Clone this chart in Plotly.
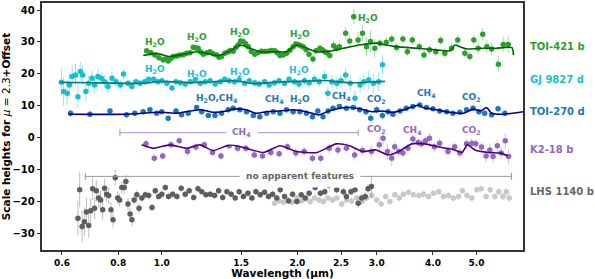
import plotly.graph_objects as go
import math

# ---------------- data: (wavelength um, scale heights, error) ----------------
toi421 = [(0.925,27.2,0.9),(0.945,26.6,0.9),(0.965,25.9,0.9),(0.985,25.0,0.9),(1.007,24.3,0.9),(1.02,24.6,0.9),
          (1.033,24.0,0.9),(1.047,24.8,0.9),(1.06,25.4,0.9),(1.078,25.6,0.9),(1.097,25.9,0.9),(1.115,26.0,0.9),
          (1.135,26.4,0.9),(1.155,26.6,0.9),(1.174,28.3,0.9),(1.19,28.1,0.9),(1.204,28.0,0.9),(1.22,26.8,0.9),
          (1.236,26.1,0.9),(1.258,26.6,0.9),(1.279,26.9,0.9),(1.30,26.3,0.9),(1.323,25.9,0.9),(1.34,25.2,0.9),
          (1.357,25.4,0.9),(1.38,26.4,0.9),(1.404,26.9,0.9),(1.42,27.3,0.9),(1.44,27.1,0.9),(1.46,28.2,0.9),
          (1.477,29.0,0.9),(1.496,30.3,0.9),(1.516,30.1,0.9),(1.535,29.4,0.9),(1.556,28.5,0.9),(1.58,27.0,0.9),
          (1.609,26.1,0.9),(1.635,26.7,0.9),(1.665,27.1,0.9),(1.695,27.0,0.9),(1.723,27.1,0.9),(1.752,27.3,0.9),
          (1.782,27.2,0.9),(1.805,26.6,0.9),(1.829,25.7,0.9),(1.86,25.9,0.9),(1.892,26.4,0.9),(1.925,27.4,0.9),
          (1.957,28.5,0.9),(1.983,29.3,0.9),(2.008,29.2,0.9),(2.035,28.8,0.9),(2.06,28.5,1.0),(2.09,27.6,1.0),
          (2.123,26.1,1.2),(2.166,24.6,1.5),(2.20,27.2,1.0),(2.244,28.0,1.0),(2.27,27.5,1.0),(2.301,26.9,1.0),
          (2.33,26.5,1.0),(2.36,25.7,1.2),(2.407,28.8,1.5),(2.44,27.9,1.2),(2.48,28.5,1.5),
          (2.56,32.7,2.0),(2.614,30.3,2.0),(2.668,37.9,2.5),(2.728,30.6,2.5),(2.79,32.7,2.5),(2.848,28.5,3.0),
          (2.907,30.1,3.5),(2.971,28.0,3.0),(3.05,29.6,1.5),(3.15,29.9,1.5),(3.24,30.9,1.5),(3.32,28.2,1.5),
          (3.43,30.9,1.5),(3.51,26.9,1.5),(3.60,30.6,1.5),(3.73,28.5,1.5),(3.82,25.9,1.5),(3.93,27.5,1.5),
          (4.06,26.9,1.5),(4.16,30.4,1.5),(4.25,26.4,1.5),(4.40,28.0,1.5),(4.54,30.6,1.5),(4.71,26.4,1.5),
          (4.83,25.4,1.5),(4.93,30.6,1.5),(5.04,28.0,2.0),(5.16,32.4,2.0),(5.27,28.5,2.0),(5.40,27.8,2.0),
          (5.59,23.0,2.5),(5.73,29.2,2.5),(5.88,29.2,2.5)]
toi421_model_wl = [0.909,0.974,1.042,1.116,1.195,1.257,1.334,1.416,1.49,1.569,1.65,1.80,1.89,1.99,2.10,2.21,
                   2.36,2.53,2.75,3.0,3.15,3.32,3.68,4.07,4.36,4.48,4.59,4.74,5.17,5.53,5.99,6.04]
toi421_model = [25.7,26.4,25.4,26.1,26.9,26.4,25.7,27.1,29.0,28.0,26.9,26.9,26.9,29.0,28.0,26.9,
                27.1,28.0,29.0,29.6,29.0,28.5,28.0,27.5,27.2,29.0,28.5,27.8,28.0,28.0,28.2,25.9]

gj9827 = [(0.598,17.3,4.5),(0.605,14.4,4.5),(0.616,13.9,4.0),(0.623,16.5,4.0),(0.632,19.1,3.5),(0.643,19.6,3.5),
          (0.651,12.8,3.5),(0.659,20.7,3.0),(0.667,19.6,3.0),(0.678,14.4,3.0),(0.688,17.0,2.5),(0.70,18.6,2.5),
          (0.709,16.5,2.5),(0.721,19.1,2.5),(0.734,18.6,2.0),(0.746,17.5,2.0),(0.759,16.0,2.0),(0.775,18.6,2.0),
          (0.791,17.5,1.5),(0.809,16.5,1.5),(0.822,19.9,1.5),(0.841,17.0,1.2),(0.858,16.0,1.2),(0.876,17.5,1.0),
          (0.895,17.0,1.0),(0.916,17.5,1.0),(0.935,18.3,1.0),(0.959,18.3,1.0),(0.980,17.5,1.0),(1.0,17.8,1.0),
          (1.026,17.0,1.0),(1.053,15.5,1.0),(1.075,17.5,1.0),(1.099,17.2,1.0),(1.127,16.8,1.0),(1.156,17.5,1.0),
          (1.186,18.1,1.0),(1.217,17.0,1.0),(1.248,17.5,1.0),(1.28,17.8,1.0),(1.314,16.8,1.0),(1.348,17.5,1.0),
          (1.378,18.3,1.0),(1.411,17.8,1.0),(1.451,17.5,1.0),(1.485,18.1,1.0),(1.527,17.0,1.0),(1.563,17.8,1.0),
          (1.607,17.2,1.0),(1.645,16.8,1.0),(1.691,17.5,1.0),(1.731,16.5,1.0),(1.779,17.2,1.0),(1.821,17.8,1.0),
          (1.873,17.0,1.0),(1.917,18.3,1.2),(1.971,17.5,1.2),(2.017,16.8,1.2),(2.074,17.8,1.2),(2.124,17.2,1.5),
          (2.183,18.3,1.5),(2.236,17.5,1.5),(2.298,19.1,2.0),(2.338,13.9,2.0),(2.386,17.5,2.0),(2.447,17.0,2.0),
          (2.50,17.8,2.0),(2.56,19.6,2.5),(2.62,17.0,2.5),(2.685,12.3,2.5),(2.755,16.5,2.5),(2.81,17.5,2.5),
          (2.88,18.1,3.0),(2.95,17.0,3.0),(3.03,17.5,3.0),(3.09,22.8,3.0)]
gj9827_model_wl = [0.595,0.70,0.90,1.0,1.15,1.3,1.45,1.6,1.8,2.0,2.3,2.6,2.9,3.13]
gj9827_model = [17.3,17.2,17.0,17.6,17.2,17.5,17.8,16.9,17.4,17.6,17.9,17.2,17.4,17.6]

toi270 = [(0.627,7.6,1.2),(0.692,7.3,1.0),(0.767,8.3,1.0),(0.835,7.1,0.8),(0.871,7.6,0.8),(0.909,8.1,0.8),
          (0.941,8.7,0.8),(0.974,7.6,0.8),(0.999,8.1,0.8),(1.033,6.0,0.8),(1.075,8.3,0.8),(1.106,7.1,0.8),
          (1.144,7.6,0.8),(1.195,9.4,0.8),(1.226,8.1,0.8),(1.268,6.9,0.8),(1.312,6.9,0.8),(1.357,7.6,0.8),
          (1.404,8.7,0.8),(1.44,9.2,0.8),(1.49,8.7,0.8),(1.542,8.1,0.8),(1.597,6.9,0.8),(1.65,6.5,0.8),
          (1.709,7.6,0.8),(1.768,8.1,0.8),(1.829,7.6,0.8),(1.892,8.7,0.8),(1.957,8.1,0.8),(2.025,8.1,0.8),
          (2.095,7.6,0.8),(2.16,6.5,0.8),(2.22,8.3,0.8),(2.28,6.5,0.8),(2.34,8.3,0.8),(2.40,9.2,0.8),
          (2.48,9.7,0.8),(2.57,9.2,0.8),(2.66,9.4,0.8),(2.75,8.7,0.8),(2.84,8.1,1.0),(2.91,6.0,1.5),
          (3.0,8.7,1.2),(3.09,6.9,1.5),(3.18,8.1,1.0),(3.26,7.3,0.8),(3.38,8.3,0.8),(3.49,9.2,0.8),
          (3.61,9.7,0.8),(3.74,10.2,0.8),(3.87,9.4,0.8),(4.0,9.0,0.8),(4.14,8.3,0.8),(4.29,8.1,0.8),
          (4.43,7.6,0.8),(4.59,7.9,0.8),(4.75,8.7,0.8),(4.91,9.2,0.8),(5.06,8.1,0.8),(5.21,7.6,0.8),
          (5.4,7.1,0.8),(5.58,9.0,0.8),(5.78,7.6,0.8)]
toi270_model_wl = [0.62,0.835,0.99,1.08,1.13,1.22,1.30,1.39,1.44,1.54,1.62,1.71,1.83,1.96,2.09,2.23,2.35,
                   2.48,2.62,2.75,2.93,3.09,3.26,3.49,3.72,3.80,4.07,4.36,4.67,4.91,5.1,5.26,5.4,5.73,6.34]
toi270_model = [7.3,7.3,7.9,7.6,8.1,8.7,7.9,8.3,8.9,8.7,7.6,8.1,8.3,8.7,8.1,7.1,8.3,
                9.2,9.4,9.0,8.1,8.3,7.9,8.9,10.2,9.4,8.7,7.9,7.6,8.9,8.3,9.4,7.6,7.3,8.1]

k218 = [(0.922,-2.0,1.2),(0.962,-6.5,1.2),(1.004,-5.8,1.2),(1.048,-2.3,1.2),(1.093,-1.0,1.2),(1.14,-4.4,1.2),
        (1.19,-3.0,1.2),(1.242,-2.3,1.2),(1.296,-4.7,1.2),(1.353,-5.8,1.2),(1.411,-2.6,1.2),(1.473,-3.4,1.2),
        (1.537,-3.4,1.2),(1.604,-5.5,1.2),(1.673,-5.8,1.2),(1.746,-4.7,1.2),(1.822,-5.1,1.2),(1.901,-2.9,1.2),
        (1.984,-4.9,1.5),(2.07,-4.4,1.5),(2.16,-6.5,1.5),(2.254,-6.5,1.5),(2.352,-3.4,1.5),(2.46,-3.9,1.5),
        (2.57,-3.4,1.5),(2.68,-5.5,1.8),(2.79,-4.1,1.5),(2.92,-4.4,2.0),(3.04,-2.3,2.0),(3.10,-0.2,2.0),
        (3.17,-4.4,2.5),(3.24,-6.5,2.5),(3.29,-2.9,1.5),(3.36,-4.4,1.5),(3.43,-4.9,1.5),(3.52,-3.4,1.5),
        (3.61,-0.5,1.5),(3.71,-1.6,1.5),(3.77,-2.0,1.5),(3.85,-1.0,1.5),(3.93,-0.2,1.5),(4.03,-2.9,1.5),
        (4.14,-1.8,1.5),(4.32,-4.4,1.5),(4.47,-2.9,1.5),(4.59,-4.9,1.5),(4.75,-2.0,1.5),(4.88,-1.8,1.5),
        (4.98,-2.0,1.5),(5.13,-3.0,1.5),(5.25,-5.8,2.0),(5.35,-3.9,2.0),(5.44,-6.0,2.0),(5.56,-2.6,2.0),
        (5.67,-4.9,2.0),(5.79,-1.0,2.5),(5.89,-6.0,2.5)]
k218_model_wl = [0.902,0.957,1.042,1.135,1.215,1.30,1.416,1.542,1.68,1.83,1.99,2.21,2.44,2.61,2.79,2.99,
                 3.19,3.36,3.59,3.84,4.12,4.42,4.64,4.77,4.96,5.31,5.66,5.87]
k218_model = [-2.3,-3.4,-2.3,-3.4,-2.3,-4.1,-2.3,-3.4,-4.7,-2.6,-4.4,-4.7,-2.0,-2.6,-4.4,-3.9,
              -5.5,-4.4,-2.0,-2.0,-3.0,-3.7,-4.7,-2.3,-3.9,-4.7,-4.9,-5.8]

lhs1140_a = [(0.651,-25.3,5.5),(0.657,-16.4,5.5),(0.665,-27.9,5.0),(0.673,-26.4,4.5),(0.68,-23.4,4.5),
             (0.688,-27.6,4.0),(0.695,-23.0,4.0),(0.702,-16.1,3.5),(0.709,-22.2,3.5),(0.715,-16.7,3.5),
             (0.724,-19.0,3.0),(0.731,-19.6,3.0),(0.739,-22.7,3.0),(0.746,-15.9,3.0),(0.754,-17.8,2.5),
             (0.762,-18.2,2.5),(0.771,-22.7,2.5),(0.779,-25.8,2.5),(0.788,-12.6,2.5),(0.798,-19.0,2.0),
             (0.806,-19.6,2.0),(0.815,-15.7,2.0),(0.825,-15.7,2.0),(0.832,-13.8,2.0),(0.841,-20.9,2.0),
             (0.85,-24.0,2.0),(0.858,-25.8,2.0),(0.868,-19.6,1.5),(0.88,-18.0,1.5),(0.89,-22.2,1.5),
             (0.903,-19.0,1.2),(0.919,-18.0,1.2),(0.935,-18.2,1.2),(0.951,-22.0,1.2),(0.967,-16.7,1.0),
             (0.984,-18.5,1.0),(1.0,-17.8,1.0),(1.018,-15.7,1.0),(1.035,-18.5,1.0),(1.057,-17.8,1.0),
             (1.08,-18.5,1.0),(1.104,-15.9,1.0),(1.127,-17.8,1.0),(1.15,-16.7,1.0),(1.177,-18.8,1.0),
             (1.203,-16.1,1.0),(1.227,-17.0,1.0),(1.253,-18.0,1.0),(1.281,-17.8,1.0),(1.31,-18.2,1.0),
             (1.337,-16.7,1.0),(1.365,-18.8,1.0),(1.395,-17.0,1.0),(1.426,-17.8,1.0),(1.455,-19.0,1.0),
             (1.485,-17.0,1.0),(1.518,-18.5,1.0),(1.553,-17.5,1.0),(1.585,-19.0,1.0),(1.618,-17.0,1.0),
             (1.654,-18.0,1.0),(1.691,-17.2,1.0),(1.726,-18.5,1.0),(1.762,-17.8,1.0),(1.80,-19.0,1.0),
             (1.832,-16.4,1.0),(1.873,-18.5,1.0),(1.912,-19.9,1.0),(1.951,-17.8,1.0),(1.995,-20.1,1.0),
             (2.04,-18.0,1.0),(2.081,-19.0,1.0),(2.124,-17.5,1.0),(2.19,-15.7,1.0),(2.25,-17.5,1.0),
             (2.30,-17.0,1.0),(2.35,-15.1,1.0),(2.40,-14.6,1.0),(2.445,-16.4,1.2),(2.49,-14.3,1.2),
             (2.53,-17.0,1.2),(2.57,-18.5,1.2),(2.63,-17.0,1.2),(2.685,-16.4,1.2),(2.73,-20.6,1.5),
             (2.78,-19.0,1.5),(2.83,-18.5,1.5),(2.87,-16.1,1.5),(2.92,-15.4,3.5)]
lhs1140_b = [(1.779,-20.6,1.0),(1.821,-19.9,1.0),(1.862,-20.3,1.0),(1.905,-19.6,1.0),(1.951,-20.3,1.0),
             (1.995,-19.0,1.0),(2.04,-19.9,1.0),(2.09,-19.2,1.0),(2.135,-20.1,1.0),(2.183,-19.0,1.0),
             (2.236,-19.6,1.0),(2.285,-20.1,1.0),(2.338,-19.0,1.0),(2.395,-19.6,1.0),(2.447,-19.0,1.0),
             (2.51,-20.9,1.0),(2.57,-19.6,1.0),(2.64,-19.9,1.0),(2.71,-19.0,1.0),(2.78,-20.1,1.0),
             (2.85,-19.0,1.0),(2.925,-18.2,1.0),(3.0,-19.6,1.0),(3.07,-20.9,1.0),(3.14,-18.5,1.0),
             (3.21,-20.1,1.0),(3.29,-18.0,1.0),(3.37,-19.0,1.0),(3.44,-17.8,1.0),(3.53,-17.2,1.0),
             (3.62,-18.0,1.0),(3.72,-18.2,1.0),(3.81,-17.8,1.0),(3.91,-18.5,1.0),(4.01,-17.5,1.0),
             (4.12,-17.0,1.0),(4.22,-18.5,1.0),(4.33,-18.2,1.0),(4.44,-19.0,1.0),(4.56,-18.5,1.0),
             (4.65,-16.7,1.0),(4.76,-18.2,1.0),(4.88,-19.0,1.0),(5.01,-16.4,1.0),(5.12,-16.1,1.0),
             (5.25,-18.5,1.0),(5.36,-16.4,1.0),(5.49,-18.5,1.2),(5.6,-17.0,1.2),(5.72,-18.5,1.2),
             (5.82,-17.0,1.5),(5.91,-19.0,1.5)]

# bracket ranges (wavelength) and levels
k218_ch4_range = [0.807, 2.73]
k218_ch4_level = 1.5
lhs_range = [0.676, 5.98]
lhs_level = -12.2

# feature labels: (text, wavelength, value, color)
feature_labels = [
    ("H<sub>2</sub>O", 0.965, 29.9, "#2ca02c"), ("H<sub>2</sub>O", 1.195, 31.3, "#2ca02c"),
    ("H<sub>2</sub>O", 1.49, 32.9, "#2ca02c"), ("H<sub>2</sub>O", 2.03, 32.4, "#2ca02c"),
    ("H<sub>2</sub>O", 2.87, 37.4, "#2ca02c"),
    ("H<sub>2</sub>O", 0.964, 21.4, "#17becf"), ("H<sub>2</sub>O", 1.197, 19.8, "#17becf"),
    ("H<sub>2</sub>O", 1.488, 20.3, "#17becf"), ("H<sub>2</sub>O", 2.02, 20.9, "#17becf"),
    ("H<sub>2</sub>O,CH<sub>4</sub>", 1.323, 12.1, "#1f77b4"), ("CH<sub>4</sub>", 1.78, 11.8, "#1f77b4"),
    ("H<sub>2</sub>O", 2.03, 11.8, "#1f77b4"), ("CH<sub>4</sub>", 2.5, 12.8, "#1f77b4"),
    ("CO<sub>2</sub>", 2.99, 11.8, "#1f77b4"), ("CH<sub>4</sub>", 3.87, 13.9, "#1f77b4"),
    ("CO<sub>2</sub>", 4.88, 12.5, "#1f77b4"),
    ("CO<sub>2</sub>", 2.99, 2.5, "#9467bd"), ("CH<sub>4</sub>", 3.61, 2.3, "#9467bd"),
    ("CO<sub>2</sub>", 4.88, 2.3, "#9467bd"),
]

planet_names = ["TOI-421 b", "GJ 9827 d", "TOI-270 d", "K2-18 b", "LHS 1140 b"]
planet_label_y = [28.4, 18.1, 8.3, -3.9, -17.1]
planet_colors = ["#2ca02c", "#17becf", "#1f77b4", "#9467bd", "#666666"]

x_ticks = [0.6, 0.8, 1.0, 1.5, 2.0, 2.5, 3.0, 4.0, 5.0]
x_ticktext = ["0.6", "0.8", "1.0", "1.5", "2.0", "2.5", "3.0", "4.0", "5.0"]
y_ticks = [-30, -20, -10, 0, 10, 20, 30, 40]

FONT = "DejaVu Sans"
fig = go.Figure()

def add_points(data, color, ecolor, size=5.5):
    wl = [d[0] for d in data]
    v = [d[1] for d in data]
    e = [d[2] for d in data]
    fig.add_trace(go.Scatter(x=wl, y=v, mode="markers",
                             marker=dict(color=color, size=size, line=dict(width=0)),
                             error_y=dict(type="data", array=e, color=ecolor, thickness=1, width=0),
                             showlegend=False, hoverinfo="skip"))

def add_model(wl, v, color):
    fig.add_trace(go.Scatter(x=wl, y=v, mode="lines", line=dict(color=color, width=1.6, shape="spline", smoothing=0.6),
                             showlegend=False, hoverinfo="skip"))

add_points(lhs1140_b, "#c8c8c8", "rgba(200,200,200,0.6)")
add_points(lhs1140_a, "#5e5e5e", "rgba(110,110,110,0.45)")
add_points(k218, "#9467bd", "rgba(148,103,189,0.4)")
add_model(k218_model_wl, k218_model, "#4b0082")
add_points(toi270, "#1f77b4", "rgba(31,119,180,0.4)")
add_model(toi270_model_wl, toi270_model, "#00008b")
add_points(gj9827, "#17becf", "rgba(23,190,207,0.45)")
add_model(gj9827_model_wl, gj9827_model, "#0b7a80")
add_points(toi421, "#2ca02c", "rgba(44,160,44,0.4)")
add_model(toi421_model_wl, toi421_model, "#006400")

# brackets
fig.add_trace(go.Scatter(x=k218_ch4_range, y=[k218_ch4_level]*2, mode="lines+markers",
                         line=dict(color="rgba(148,103,189,0.75)", width=1),
                         marker=dict(symbol="line-ns-open", size=5, line=dict(color="rgba(148,103,189,0.75)", width=1)),
                         showlegend=False, hoverinfo="skip"))
fig.add_trace(go.Scatter(x=lhs_range, y=[lhs_level]*2, mode="lines+markers",
                         line=dict(color="#999999", width=1),
                         marker=dict(symbol="line-ns-open", size=5, line=dict(color="#999999", width=1)),
                         showlegend=False, hoverinfo="skip"))

ann = []
ann.append(dict(x=math.log10(1.503), y=k218_ch4_level, text="<b>CH<sub>4</sub></b>", showarrow=False,
                font=dict(family=FONT, size=9, color="#9467bd"), bgcolor="white", borderpad=6))
ann.append(dict(x=math.log10(2.03), y=lhs_level, text="<b>no apparent features</b>", showarrow=False,
                font=dict(family=FONT, size=9, color="#666666"), bgcolor="white", borderpad=6))
for t, wl, v, c in feature_labels:
    ann.append(dict(x=math.log10(wl), y=v, text="<b>" + t + "</b>", showarrow=False,
                    font=dict(family=FONT, size=9, color=c)))
for n, yv, c in zip(planet_names, planet_label_y, planet_colors):
    ann.append(dict(xref="paper", x=1.0104, y=yv, xanchor="left", text="<b>" + n + "</b>", showarrow=False,
                    font=dict(family=FONT, size=10, color=c)))

fig.update_layout(
    width=595, height=279,
    margin=dict(l=42, r=72, t=3, b=29, autoexpand=False),
    plot_bgcolor="white", paper_bgcolor="white",
    annotations=ann,
    font=dict(family=FONT, color="black"),
)
fig.update_xaxes(type="log", range=[math.log10(0.5418), math.log10(6.34)], automargin=False,
                 tickvals=x_ticks, ticktext=x_ticktext,
                 tickfont=dict(family=FONT, size=9, weight="bold"),
                 showgrid=False, zeroline=False,
                 showline=True, mirror=True, linecolor="#333333", linewidth=1.6,
                 ticks="outside", ticklen=3, tickwidth=1, tickcolor="#333333",
                 title=dict(text="<b>Wavelength (μm)</b>", font=dict(family=FONT, size=10.5), standoff=3))
fig.update_yaxes(range=[-35.3, 42.2], tickvals=y_ticks, automargin=False,
                 tickfont=dict(family=FONT, size=10, weight="bold"),
                 showgrid=False, zeroline=False,
                 showline=True, mirror=True, linecolor="#333333", linewidth=1.6,
                 ticks="outside", ticklen=3.5, tickwidth=1, tickcolor="#333333",
                 title=dict(text="<b>Scale heights for </b><i>μ</i> = 2.3<b>+Offset</b>",
                            font=dict(family=FONT, size=10.5), standoff=4))

fig.write_html("out.html", config={"displayModeBar": False},
               post_script="document.body.style.margin='0';document.body.style.overflow='hidden';")
